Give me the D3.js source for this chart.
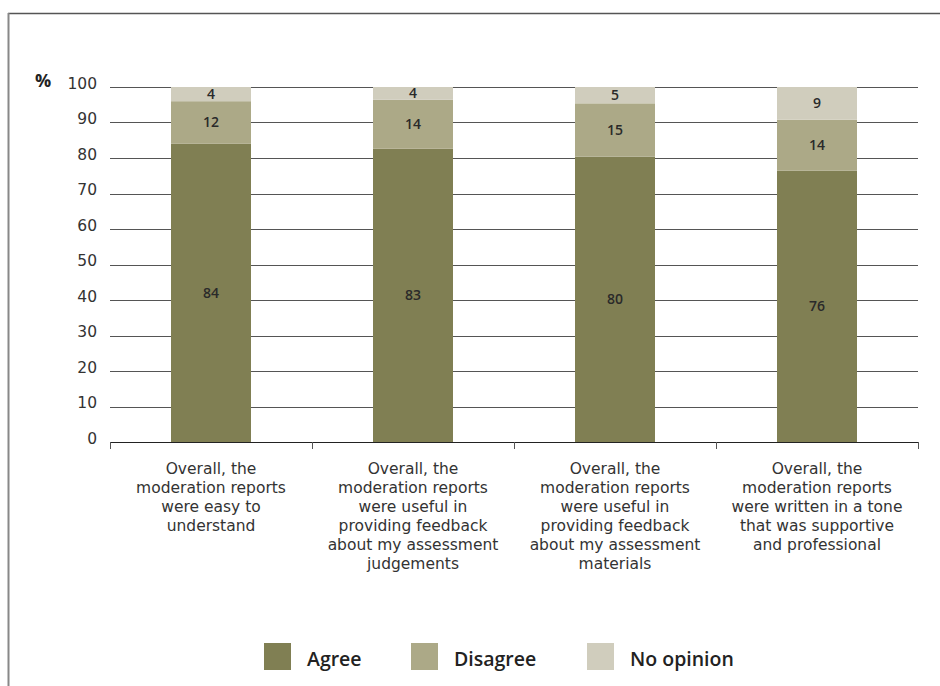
<!DOCTYPE html>
<html>
<head>
<meta charset="utf-8">
<script src="https://cdn.jsdelivr.net/npm/d3@7"></script>
<style>
  body { margin: 0; background: #fff; }
  svg { display: block; font-family: "Open Sans", "Noto Sans", sans-serif; }
</style>
</head>
<body>
<svg width="940" height="686"></svg>
<script>
// categories and series
var categories = [
  "Overall, the|moderation reports|were easy to|understand",
  "Overall, the|moderation reports|were useful in|providing feedback|about my assessment|judgements",
  "Overall, the|moderation reports|were useful in|providing feedback|about my assessment|materials",
  "Overall, the|moderation reports|were written in a tone|that was supportive|and professional"
];
var agree     = [84.0, 82.6, 80.4, 76.4];
var disagree  = [12.0, 13.8, 15.0, 14.4];
var noOpinion = [4.0, 3.6, 4.6, 9.2];
var seriesNames = ["Agree", "Disagree", "No opinion"];
var seriesColors = ["#807f53", "#aca987", "#d0cdbd"];
var yTicks = [0, 10, 20, 30, 40, 50, 60, 70, 80, 90, 100];

var svg = d3.select("svg");

// frame
svg.append("line").attr("x1", 8).attr("x2", 940).attr("y1", 13.5).attr("y2", 13.5)
  .attr("stroke", "#555").attr("stroke-width", 1.5);
svg.append("line").attr("x1", 8.5).attr("x2", 8.5).attr("y1", 13).attr("y2", 686)
  .attr("stroke", "#888").attr("stroke-width", 2);

var x = d3.scaleBand().domain(categories).range([110, 918])
  .paddingInner(0.604).paddingOuter(0.302);
var y = d3.scaleLinear().domain([0, 100]).range([442, 87]);

// gridlines
svg.append("g").selectAll("line").data(yTicks.filter(function(d){ return d > 0; }))
  .enter().append("line")
  .attr("x1", 110).attr("x2", 918)
  .attr("y1", function(d){ return Math.round(y(d)) + 0.5; })
  .attr("y2", function(d){ return Math.round(y(d)) + 0.5; })
  .attr("stroke", "#555").attr("stroke-width", 1);

// y tick labels
svg.append("g").selectAll("text").data(yTicks).enter().append("text")
  .attr("x", 97).attr("y", function(d){ return y(d) + 1.5; })
  .attr("text-anchor", "end")
  .style("font-family", "'DejaVu Sans', sans-serif")
  .attr("font-size", 15.5).attr("fill", "#333")
  .text(function(d){ return d; });
svg.append("text").attr("x", 35).attr("y", 87).attr("font-size", 18)
  .attr("font-weight", "bold").attr("fill", "#222").text("%");

// stacked data
var rows = categories.map(function(c, i){
  return { cat: c, Agree: agree[i], Disagree: disagree[i], "No opinion": noOpinion[i] };
});
var stack = d3.stack().keys(seriesNames)(rows);

var layers = svg.append("g").selectAll("g").data(stack).enter().append("g")
  .attr("fill", function(d, i){ return seriesColors[i]; });

layers.selectAll("rect").data(function(d){ return d; }).enter().append("rect")
  .attr("x", function(d){ return x(d.data.cat); })
  .attr("width", x.bandwidth())
  .attr("y", function(d){ return y(d[1]); })
  .attr("height", function(d){ return y(d[0]) - y(d[1]); });

layers.selectAll("text").data(function(d){ return d; }).enter().append("text")
  .attr("x", function(d){ return x(d.data.cat) + x.bandwidth() / 2; })
  .attr("y", function(d){ return (y(d[0]) + y(d[1])) / 2 + 1; })
  .attr("text-anchor", "middle").attr("dominant-baseline", "middle")
  .attr("font-size", 14).attr("font-weight", 600).attr("fill", "#2a2a2a")
  .text(function(d){ return Math.round(d[1] - d[0]); });

// x axis
svg.append("line").attr("x1", 110).attr("x2", 918.5).attr("y1", 442.5).attr("y2", 442.5)
  .attr("stroke", "#222").attr("stroke-width", 1);
var tickXs = d3.range(categories.length + 1).map(function(i){ return 110 + i * x.step(); });
svg.append("g").selectAll("line").data(tickXs).enter().append("line")
  .attr("x1", function(d){ return Math.round(d) + 0.5; })
  .attr("x2", function(d){ return Math.round(d) + 0.5; })
  .attr("y1", 442).attr("y2", 449)
  .attr("stroke", "#555");

// category labels, one text per line so the lines can sit close
var catGroups = svg.append("g").selectAll("g").data(categories).enter().append("g");
catGroups.selectAll("text").data(function(d){
    return d.split("|").map(function(t){ return { cat: d, t: t }; });
  }).enter().append("text")
  .attr("x", function(d){ return x(d.cat) + x.bandwidth() / 2; })
  .attr("y", function(d, i){ return 474 + i * 19; })
  .attr("text-anchor", "middle")
  .style("font-family", "'DejaVu Sans', sans-serif")
  .attr("font-size", 15.5).attr("fill", "#333")
  .text(function(d){ return d.t; });

// legend
var legendX = [264, 411, 587];
var legend = svg.append("g").selectAll("g").data(seriesNames).enter().append("g")
  .attr("transform", function(d, i){ return "translate(" + legendX[i] + ",643)"; });
legend.append("rect").attr("width", 27).attr("height", 27)
  .attr("fill", function(d, i){ return seriesColors[i]; });
legend.append("text").attr("x", 43).attr("y", 23)
  .attr("font-size", 19.5).attr("font-weight", 600).attr("fill", "#222")
  .text(function(d){ return d; });
</script>
</body>
</html>
